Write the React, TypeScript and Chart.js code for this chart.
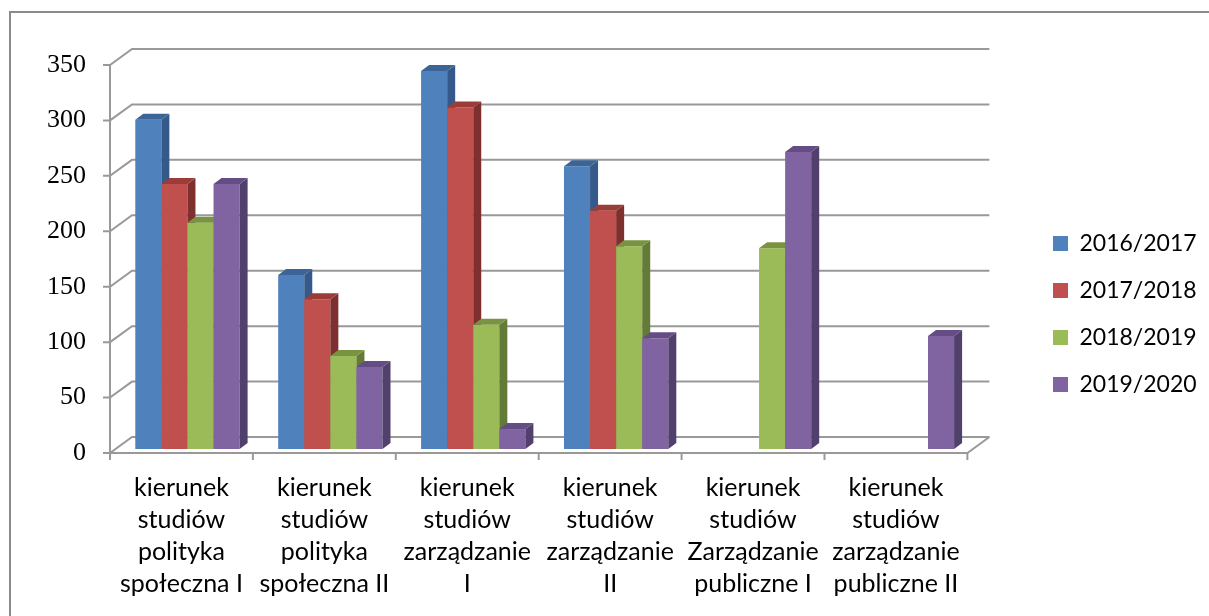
import React, { useEffect, useRef } from "react";
import { Chart, registerables } from "chart.js";

Chart.register(...registerables);

const categories: string[][] = [
  ["kierunek", "studiów", "polityka", "społeczna I"],
  ["kierunek", "studiów", "polityka", "społeczna II"],
  ["kierunek", "studiów", "zarządzanie", "I"],
  ["kierunek", "studiów", "zarządzanie", "II"],
  ["kierunek", "studiów", "Zarządzanie", "publiczne I"],
  ["kierunek", "studiów", "zarządzanie", "publiczne II"],
];

const seriesLabels = ["2016/2017", "2017/2018", "2018/2019", "2019/2020"];
const values2016 = [297, 157, 341, 255, null, null];
const values2017 = [239, 135, 308, 215, null, null];
const values2018 = [204, 84, 112, 183, 181, null];
const values2019 = [239, 74, 18, 100, 268, 102];

const yMin = 0;
const yMax = 350;
const yStep = 50;

const frontColors = ["#4f81bd", "#c0504d", "#9bbb59", "#8064a2"];
const topColors = ["#3c6597", "#9c3c39", "#789440", "#644d84"];
const sideColors = ["#34598a", "#7e302e", "#637b36", "#51406c"];

// 3D geometry (pixels)
const DX = 22; // full floor depth, x
const DY = -16; // full floor depth, y
const BX = 6; // bar plane offset from front plane
const BY = -4;
const BD = 8; // bar depth
const BDY = -6;
const GRID = "#999999";

const threeD = {
  id: "threeD",
  beforeDraw(chart: any) {
    const ctx = chart.ctx;
    ctx.save();
    ctx.strokeStyle = "#8a8a8a";
    ctx.lineWidth = 2;
    ctx.strokeRect(10, 12, 1400, 800);
    ctx.restore();
  },
  afterLayout(chart: any) {
    const lg = chart.legend;
    if (lg) {
      const top = 208;
      lg.top = top;
      lg.bottom = top + 230;
      lg.left = 1029;
      lg.right = 1029 + 180;
      lg.width = 180;
      lg.height = 230;
    }
  },
  beforeDatasetsDraw(chart: any) {
    const ctx = chart.ctx;
    const ca = chart.chartArea;
    const ys = chart.scales.y;
    const xs = chart.scales.x;
    const L = ca.left;
    const R = ca.right;
    const y0 = ys.getPixelForValue(0);
    const yTop = ys.getPixelForValue(yMax);
    ctx.save();
    ctx.strokeStyle = GRID;
    ctx.lineWidth = 2;
    ctx.lineCap = "butt";
    ys.ticks.forEach((t: any) => {
      const py = ys.getPixelForValue(t.value);
      ctx.beginPath();
      ctx.moveTo(L - 7, py);
      ctx.lineTo(L, py);
      ctx.lineTo(L + DX, py + DY);
      ctx.lineTo(R + DX, py + DY);
      ctx.stroke();
    });
    ctx.beginPath();
    ctx.moveTo(L, y0);
    ctx.lineTo(R, y0);
    ctx.lineTo(R + DX, y0 + DY);
    ctx.stroke();
    ctx.beginPath();
    ctx.moveTo(L, yTop);
    ctx.lineTo(L, y0);
    ctx.stroke();
    const n = xs.ticks.length;
    for (let i = 0; i <= n; i++) {
      const px = L + (i * (R - L)) / n;
      ctx.beginPath();
      ctx.moveTo(px, y0);
      ctx.lineTo(px, y0 + 7);
      ctx.stroke();
    }
    ctx.restore();
  },
  beforeDatasetDraw() {
    // drawn in left-to-right order in afterDatasetsDraw
    return false;
  },
  afterDatasetsDraw(chart: any) {
    const ctx = chart.ctx;
    ctx.save();
    ctx.translate(BX, BY);
    chart.data.datasets.forEach((ds: any, di: number) => {
      const meta = chart.getDatasetMeta(di);
      if (!meta.visible) return;
      meta.controller.draw();
      meta.data.forEach((el: any, j: number) => {
        if (ds.data[j] == null) return;
        const p = el.getProps(["x", "y", "base", "width"], true);
        const left = p.x - p.width / 2;
        const right = p.x + p.width / 2;
        const top = p.y;
        const bottom = p.base;
        ctx.fillStyle = sideColors[di];
        ctx.beginPath();
        ctx.moveTo(right, top);
        ctx.lineTo(right + BD, top + BDY);
        ctx.lineTo(right + BD, bottom + BDY);
        ctx.lineTo(right, bottom);
        ctx.closePath();
        ctx.fill();
        ctx.fillStyle = topColors[di];
        ctx.beginPath();
        ctx.moveTo(left, top);
        ctx.lineTo(right, top);
        ctx.lineTo(right + BD, top + BDY);
        ctx.lineTo(left + BD, top + BDY);
        ctx.closePath();
        ctx.fill();
      });
    });
    ctx.restore();
  },
};

export default function App() {
  const ref = useRef<HTMLCanvasElement | null>(null);
  useEffect(() => {
    if (!ref.current) return;
    const seriesValues = [values2016, values2017, values2018, values2019];
    const chart = new Chart(ref.current, {
      type: "bar",
      data: {
        labels: categories,
        datasets: seriesLabels.map((label, i) => ({
          label,
          data: seriesValues[i],
          backgroundColor: frontColors[i],
          borderWidth: 0,
          categoryPercentage: 0.73,
          barPercentage: 1.0,
          yAxisID: "y",
        })),
      },
      options: {
        animation: false,
        responsive: false,
        devicePixelRatio: 1,
        events: [],
        layout: { padding: { left: 0, top: 65, right: 0, bottom: 0 } },
        plugins: {
          tooltip: { enabled: false },
          title: { display: false },
          legend: {
            position: "right",
            align: "start",
            maxWidth: 180,
            labels: {
              boxWidth: 15,
              boxHeight: 15,
              padding: 24,
              color: "#000000",
              textAlign: "left",
              font: { family: "Lato", size: 23 },
            },
          },
        },
        scales: {
          x: {
            grid: { display: false, drawTicks: false },
            border: { display: false },
            ticks: {
              color: "#000000",
              font: { family: "Lato", size: 25, lineHeight: 1.28 },
              padding: 19,
              maxRotation: 0,
              autoSkip: false,
            },
            afterFit(s: any) {
              s.height = 163;
            },
          },
          y: {
            min: yMin,
            max: yMax,
            grid: { display: false, drawTicks: false },
            border: { display: false },
            ticks: {
              stepSize: yStep,
              color: "#000000",
              font: { family: "Liberation Serif", size: 26 },
              padding: 24,
            },
            afterFit(s: any) {
              s.width = 110;
            },
          },
          y2: {
            type: "linear",
            position: "right",
            display: true,
            grid: { display: false, drawTicks: false },
            border: { display: false },
            ticks: { display: false },
            afterFit(s: any) {
              s.width = 64;
            },
          },
        },
      },
      plugins: [threeD],
    } as any);
    return () => chart.destroy();
  }, []);
  return (
    <div style={{ position: "fixed", left: 0, top: 0, width: 1209, height: 616, background: "#ffffff" }}>
      <canvas ref={ref} width={1209} height={616} style={{ display: "block" }} />
    </div>
  );
}
